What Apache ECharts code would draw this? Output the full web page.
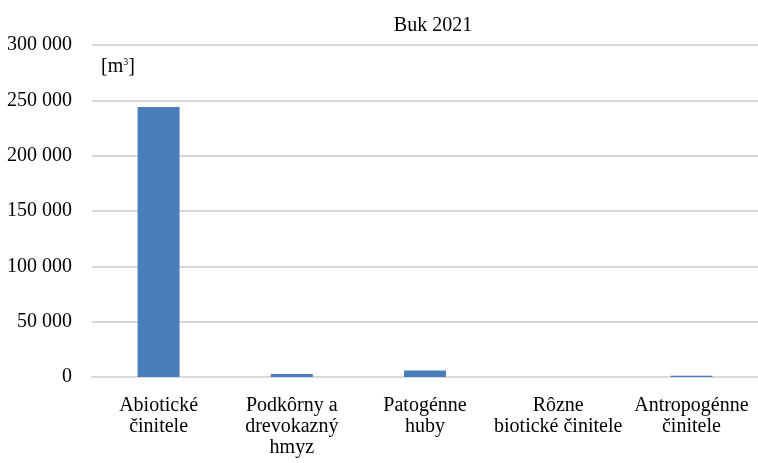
<!DOCTYPE html>
<html>
<head>
<meta charset="utf-8">
<script src="https://cdn.jsdelivr.net/npm/echarts@6/dist/echarts.min.js"></script>
<style>
  html, body { margin: 0; padding: 0; background: #fff; }
  #chart { width: 758px; height: 463px; }
</style>
</head>
<body>
<div id="chart"></div>
<script>
// Damage volume of beech by cause, 2021
const titleText = 'Buk 2021';
const unitText = '[m{sup|3}]';
const categories = [
  'Abiotické\nčinitele',
  'Podkôrny a\ndrevokazný\nhmyz',
  'Patogénne\nhuby',
  'Rôzne\nbiotické činitele',
  'Antropogénne\nčinitele'
];
const volumes = [244000, 2700, 5900, 0, 1200];
const yMin = 0;
const yMax = 300000;
const yStep = 50000;

const FONT = '"Liberation Serif", "Times New Roman", serif';
const chart = echarts.init(document.getElementById('chart'), null, { renderer: 'canvas' });

function fmtThousands(v) {
  return String(v).replace(/\B(?=(\d{3})+(?!\d))/g, ' ');
}

chart.setOption({
  animation: false,
  backgroundColor: '#ffffff',
  title: {
    text: titleText,
    left: 428,
    textAlign: 'center',
    top: 11,
    textStyle: { fontFamily: FONT, fontSize: 20, fontWeight: 'normal', color: '#000' }
  },
  graphic: [{
    type: 'text',
    left: 101,
    top: 57,
    style: {
      text: unitText,
      fontFamily: FONT,
      fontSize: 20,
      fill: '#000',
      rich: {
        sup: { fontFamily: FONT, fontSize: 10, verticalAlign: 'top', padding: [0, 0, 10, 0], fill: '#000' }
      }
    }
  }],
  grid: { left: 92, top: 45, width: 672, height: 332, containLabel: false },
  xAxis: {
    type: 'category',
    data: categories,
    axisLine: { show: true, lineStyle: { color: '#d9d9d9', width: 2 } },
    axisTick: { show: false },
    axisLabel: {
      interval: 0,
      margin: 18,
      fontFamily: FONT,
      fontSize: 20,
      lineHeight: 21,
      color: '#000'
    }
  },
  yAxis: {
    type: 'value',
    min: yMin,
    max: yMax,
    interval: yStep,
    axisLine: { show: false },
    axisTick: { show: false },
    splitLine: { show: true, lineStyle: { color: '#d9d9d9', width: 2 } },
    axisLabel: {
      margin: 20,
      fontFamily: FONT,
      fontSize: 20,
      color: '#000',
      formatter: fmtThousands
    }
  },
  series: [{
    type: 'bar',
    data: volumes,
    barWidth: 42,
    itemStyle: { color: '#4a7ebb' }
  }]
});
</script>
</body>
</html>
